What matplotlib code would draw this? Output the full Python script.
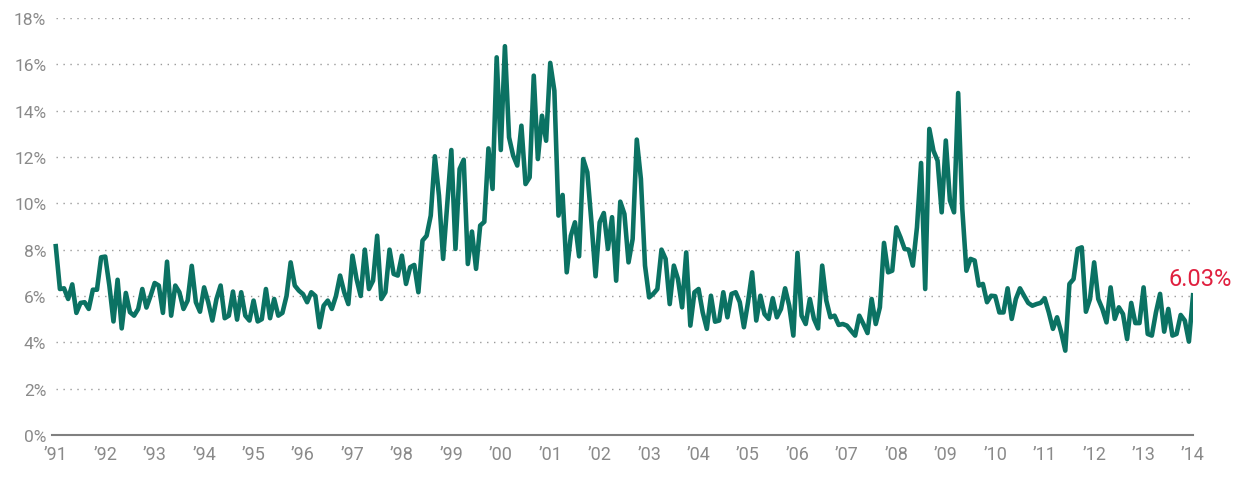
import numpy as np
import matplotlib
matplotlib.use('Agg')
import matplotlib.pyplot as plt

# monthly rate (%), Jan 1991 onwards, in six chunks
rates_91_94 = [8.15, 6.3, 6.33, 5.87, 6.5, 5.27, 5.7, 5.73, 5.44, 6.27, 6.27, 7.67,
               7.7, 6.45, 4.9, 6.7, 4.6, 6.13, 5.3, 5.15, 5.44, 6.3, 5.5, 6.0,
               6.56, 6.45, 5.27, 7.48, 5.15, 6.45, 6.16, 5.44, 5.8, 7.3, 5.73, 5.32,
               6.37, 5.73, 4.94, 5.87, 6.45, 5.04, 5.15, 6.19, 4.98]
rates_94_98 = [6.16, 5.15, 4.94, 5.8, 4.9, 5.0, 6.3, 5.04, 5.87, 5.15, 5.27, 6.0,
               7.45, 6.45, 6.23, 6.08, 5.73, 6.16, 6.0, 4.65, 5.58, 5.8, 5.44, 6.0,
               6.88, 6.16, 5.65, 7.74, 6.73, 6.0, 8.0, 6.3, 6.66, 8.6, 5.87, 6.16,
               8.0, 6.95, 6.88, 7.74, 6.52, 7.24, 7.34, 6.16, 8.39, 8.6]
rates_98_02 = [9.47, 12.03, 10.33, 7.6, 9.97, 12.3, 8.03, 11.48, 11.88, 7.38, 8.78, 7.17,
               9.04, 9.2, 12.37, 10.62, 16.3, 12.3, 16.78, 12.85, 12.06, 11.63, 13.35, 10.83,
               11.12, 15.51, 11.91, 13.78, 12.7, 16.06, 14.86, 9.47, 10.36, 7.02, 8.6, 9.18,
               7.71, 11.91, 11.34, 9.18, 6.85, 9.18, 9.58, 8.03, 9.4, 6.66]
rates_02_06 = [10.07, 9.54, 7.45, 8.46, 12.75, 11.05, 7.31, 5.94, 6.09, 6.3, 8.0, 7.6,
               5.65, 7.31, 6.73, 5.51, 7.88, 4.72, 6.16, 6.3, 5.29, 4.58, 6.01, 4.89,
               4.94, 6.16, 5.08, 6.09, 6.16, 5.73, 4.65, 5.73, 7.02, 4.94, 6.01, 5.22,
               5.01, 5.9, 5.08, 5.44, 6.33, 5.58, 4.29, 7.86, 5.15, 4.79, 5.87]
rates_06_10 = [5.01, 4.6, 7.31, 5.8, 5.08, 5.15, 4.75, 4.79, 4.72, 4.5, 4.29, 5.15,
               4.79, 4.4, 5.87, 4.79, 5.51, 8.29, 7.02, 7.09, 8.96, 8.53, 8.03, 8.0,
               7.31, 8.96, 11.74, 6.3, 13.21, 12.27, 11.84, 9.61, 12.71, 10.12, 9.61, 14.76,
               9.76, 7.09, 7.6, 7.53, 6.45, 6.52, 5.73, 6.01, 5.99, 5.29]
rates_10_14 = [5.29, 6.33, 5.01, 5.87, 6.33, 6.01, 5.7, 5.58, 5.65, 5.7, 5.9, 5.29,
               4.58, 5.08, 4.43, 3.64, 6.52, 6.73, 8.03, 8.1, 5.32, 5.87, 7.45, 5.87,
               5.44, 4.86, 6.37, 5.01, 5.51, 5.22, 4.14, 5.7, 4.83, 4.83, 6.37, 4.36,
               4.29, 5.29, 6.09, 4.46, 5.44, 4.29, 4.36, 5.18, 4.94, 4.03, 6.03]

years = list(range(1991, 2015))
year_labels = ['\u2019' + str(y)[2:] for y in years]
y_ticks = list(range(0, 19, 2))
last_label = '6.03%'

rates = np.array(rates_91_94 + rates_94_98 + rates_98_02 + rates_02_06 + rates_06_10 + rates_10_14)
t = 1991 + np.arange(len(rates)) / 12

plt.rcParams['font.family'] = ['Roboto', 'DejaVu Sans']

fig = plt.figure(figsize=(12.34, 4.81), dpi=100)
ax = fig.add_axes([0.042, 0.0936, 0.925, 0.867])

ax.plot(t, rates, color='#0b7263', linewidth=3.3, solid_joinstyle='round')

ax.set_xlim(1990.92, t[-1] + 0.005)
ax.set_ylim(0, 18)
ax.set_yticks(y_ticks)
ax.set_yticklabels([f'{v}%' for v in y_ticks])
ax.set_xticks(years)
ax.set_xticklabels(year_labels)

# dotted gridlines only across the data range
ax.hlines(y_ticks[1:], t[0], t[-1], color='#9a9a9a', linewidth=1,
          linestyle=(0, (1, 4)), zorder=0)

for s in ['top', 'right', 'left']:
    ax.spines[s].set_visible(False)
ax.spines['bottom'].set_color('#808080')
ax.spines['bottom'].set_linewidth(1.5)
ax.tick_params(axis='both', length=0, colors='#8a8a8a')
ax.tick_params(axis='y', pad=4, labelsize=12.5)
ax.tick_params(axis='x', pad=7, labelsize=13)

ax.annotate(last_label, (t[-1], rates[-1]), xytext=(7, 10), textcoords='offset pixels',
            ha='center', va='baseline', color='#e0203f', fontsize=17)

fig.savefig('out.png', dpi=100)
